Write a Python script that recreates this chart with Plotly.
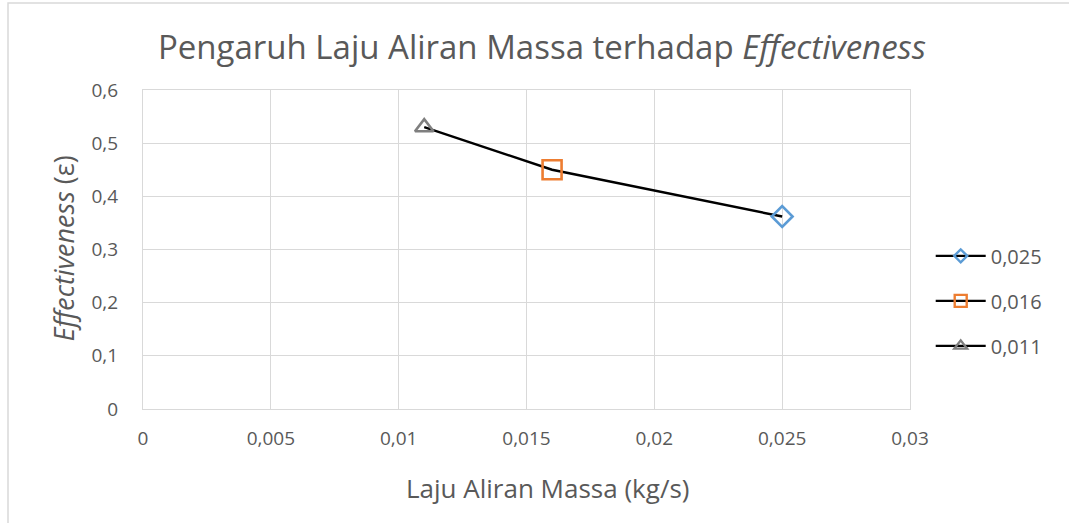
import plotly.graph_objects as go

mass_flow = [0.025, 0.016, 0.011]
effectiveness = [0.362, 0.450, 0.530]
labels = ["0,025", "0,016", "0,011"]
symbols = ["diamond-open", "square-open", "triangle-up-open"]
colors = ["#5B9BD5", "#ED7D31", "#7F7F7F"]
sizes = [16, 19, 16]
legend_sizes = [10, 12, 11]

x_ticks = [0, 0.005, 0.01, 0.015, 0.02, 0.025, 0.03]
y_ticks = [0, 0.1, 0.2, 0.3, 0.4, 0.5, 0.6]

fig = go.Figure()
fig.add_trace(go.Scatter(x=mass_flow, y=effectiveness, mode="lines",
                         line=dict(color="black", width=2.4), showlegend=False,
                         hoverinfo="skip"))
for i in range(len(mass_flow)):
    fig.add_trace(go.Scatter(
        x=[mass_flow[i]], y=[effectiveness[i]], mode="markers", showlegend=False,
        marker=dict(symbol=symbols[i], color=colors[i], size=sizes[i],
                    line=dict(color=colors[i], width=2.6))))
    # legend entry (line + smaller marker)
    fig.add_trace(go.Scatter(
        x=[None], y=[None], mode="lines+markers", name=labels[i],
        legendgroup=labels[i],
        line=dict(color="black", width=2.4),
        marker=dict(symbol=symbols[i], color=colors[i], size=legend_sizes[i],
                    line=dict(color=colors[i], width=2.4))))

font = "Open Sans"
fig.update_layout(
    width=1069, height=523,
    paper_bgcolor="white", plot_bgcolor="white",
    separators=", ",
    margin=dict(l=143, r=159, t=90, b=114),
    title=dict(text="Pengaruh Laju Aliran Massa terhadap <i>Effectiveness</i>",
               x=0.507, xanchor="center", y=0.91, yanchor="middle",
               font=dict(family=font, size=33, color="#595959")),
    font=dict(family=font, color="#595959", size=20),
    xaxis=dict(range=[0, 0.03], tickvals=x_ticks, showgrid=True, gridcolor="#D9D9D9",
               gridwidth=1.3, zeroline=False, showline=True, linecolor="#D9D9D9",
               linewidth=1.3, mirror=True, ticks="", tickfont=dict(size=19),
               ticklabelstandoff=12),
    yaxis=dict(range=[0, 0.6], tickvals=y_ticks, showgrid=True, gridcolor="#D9D9D9",
               gridwidth=1.3, zeroline=False, showline=True, linecolor="#D9D9D9",
               linewidth=1.3, mirror=True, ticks="", tickfont=dict(size=19),
               ticklabelstandoff=20),
    legend=dict(x=1.027, xanchor="left", y=0.339, yanchor="middle",
                tracegroupgap=16, font=dict(size=20, color="#595959"),
                itemwidth=50, bgcolor="rgba(0,0,0,0)"),
    annotations=[
        dict(text="Laju Aliran Massa (kg/s)", xref="paper", yref="paper",
             x=0.527, y=-0.248, xanchor="center", yanchor="middle", showarrow=False,
             font=dict(size=26, color="#595959")),
        dict(text="<i>Effectiveness</i> (ε)", xref="paper", yref="paper",
             x=-0.103, y=0.503, xanchor="center", yanchor="middle", showarrow=False,
             textangle=-90, font=dict(size=27, color="#595959")),
    ],
    shapes=[dict(type="rect", xref="paper", yref="paper", x0=-0.176, x1=1.4,
                 y0=-0.6, y1=1.273, line=dict(color="#D9D9D9", width=1.5),
                 fillcolor="rgba(0,0,0,0)", layer="below")],
)
fig.write_html("out.html", config={"displayModeBar": False},
               post_script="document.body.style.margin='0';document.body.style.overflow='hidden';")
